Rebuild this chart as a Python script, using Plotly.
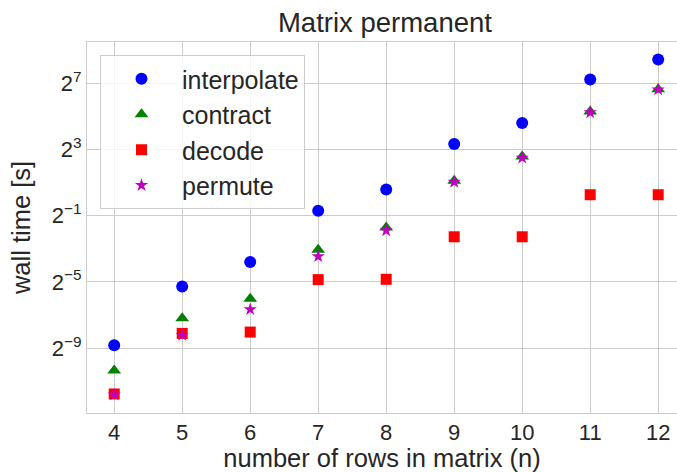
import plotly.graph_objects as go
import math

n_rows = [4, 5, 6, 7, 8, 9, 10, 11, 12]
interpolate_exp = [-8.82, -5.28, -3.79, -0.70, 0.58, 3.34, 4.60, 7.24, 8.44]
contract_exp = [-10.35, -7.20, -6.01, -3.06, -1.71, 1.12, 2.58, 5.30, 6.65]
decode_exp = [-11.77, -8.11, -8.03, -4.86, -4.84, -2.27, -2.27, 0.27, 0.27]
permute_exp = [-11.81, -8.21, -6.66, -3.46, -1.89, 1.04, 2.50, 5.24, 6.62]

ytick_exps = [-9, -5, -1, 3, 7]
ytick_text = ["2<sup>\u2212%d</sup>" % (-e) if e < 0 else "2<sup>%d</sup>" % e for e in ytick_exps]
xtick_vals = n_rows

FONT = "Liberation Sans, Arial, sans-serif"
TXT = "#262626"
GRID = "#cccccc"

series = [
    ("interpolate", interpolate_exp, "circle", "#0000ff", 12),
    ("contract", contract_exp, "triangle-up", "#008000", 12),
    ("decode", decode_exp, "square", "#ff0000", 11),
    ("permute", permute_exp, "star", "#bf00bf", 10),
]

fig = go.Figure()
for name, exps, sym, col, sz in series:
    fig.add_trace(go.Scatter(
        x=n_rows, y=[2.0 ** e for e in exps], mode="markers", name=name,
        marker=dict(symbol=sym, color=col, size=sz, line=dict(width=0)),
    ))

fig.update_layout(
    width=677, height=472,
    margin=dict(l=87, r=0, t=42, b=59),
    paper_bgcolor="white", plot_bgcolor="white",
    font=dict(family=FONT, color=TXT, size=22),
    title=dict(text="Matrix permanent", x=0.505, xref="paper", xanchor="center",
               y=1 - 22 / 472, yref="container", yanchor="middle",
               font=dict(size=27.5, color=TXT)),
    showlegend=True,
    legend=dict(x=(100 - 87) / 590, y=1 - (55 - 42) / 371, xanchor="left", yanchor="top",
                bgcolor="rgba(255,255,255,0.8)", bordercolor=GRID, borderwidth=1,
                font=dict(size=25, color=TXT), itemwidth=71),
)
fig.update_xaxes(
    range=[3.6, 3.6 + 590 / 68], tickvals=xtick_vals, ticktext=[str(v) for v in xtick_vals],
    showgrid=True, gridcolor=GRID, gridwidth=1, zeroline=False,
    showline=True, linecolor=GRID, linewidth=1, mirror=True, ticks="",
    tickfont=dict(size=22, color=TXT),
    title=dict(text="number of rows in matrix (n)", font=dict(size=25.5, color=TXT), standoff=6),
)
fig.update_yaxes(
    type="log", range=[-12.92 * math.log10(2), 9.5 * math.log10(2)],
    tickvals=[2.0 ** e for e in ytick_exps], ticktext=ytick_text,
    showgrid=True, gridcolor=GRID, gridwidth=1, zeroline=False,
    showline=True, linecolor=GRID, linewidth=1, ticks="",
    tickfont=dict(size=22, color=TXT),
    title=dict(text="wall time [s]", font=dict(size=25.5, color=TXT), standoff=13),
)
fig.write_html("out.html")
